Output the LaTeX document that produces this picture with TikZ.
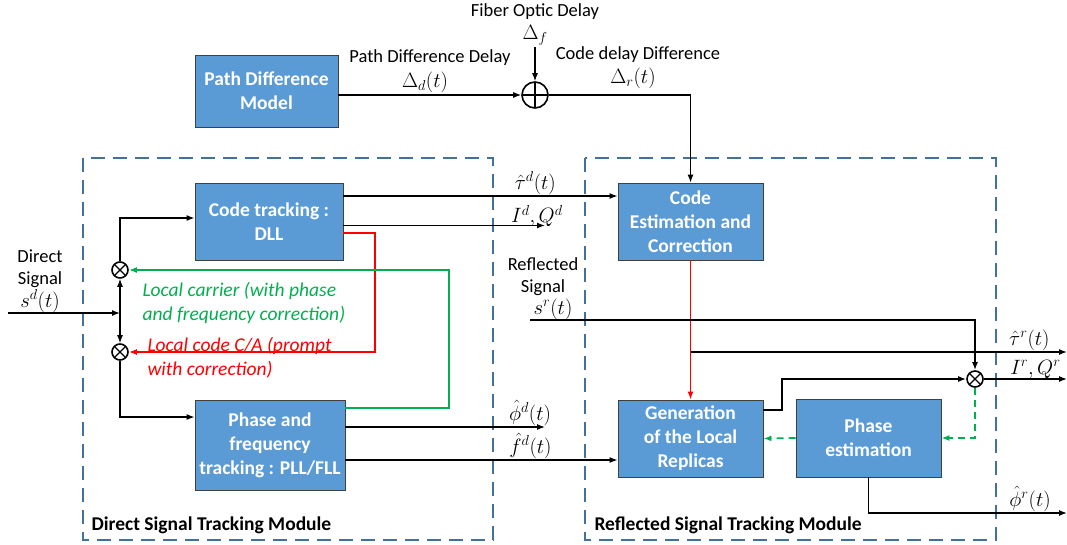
\documentclass[tikz,border=0pt]{standalone}
\usepackage{fontspec}
\setmainfont{Carlito}
\usetikzlibrary{arrows.meta}
\definecolor{boxblue}{HTML}{5B9BD5}
\definecolor{modblue}{HTML}{41719C}
\definecolor{carriergreen}{HTML}{00B050}
\tikzset{
    block/.style={ % blocs de traitement
        draw=black!75,
        fill=boxblue,
        text=white,
        line width=0.8pt,
        inner sep=0pt,
        align=center,
        font=\bfseries\fontsize{19.5}{24}\selectfont
    },
    module/.style={ % cadres des modules
        draw=modblue,
        line width=1.6pt,
        dash pattern=on 14pt off 8pt
    },
    mult/.style={ % multiplieur
        draw, circle, line width=1.6pt, minimum size=16pt, inner sep=0pt,
        path picture={
            \draw[line width=1.2pt] (path picture bounding box.north west) -- (path picture bounding box.south east)
                (path picture bounding box.north east) -- (path picture bounding box.south west);
        }
    },
    summer/.style={ % sommateur
        draw, circle, line width=1.6pt, minimum size=26pt, inner sep=0pt,
        path picture={
            \draw[line width=1.2pt] (path picture bounding box.north) -- (path picture bounding box.south)
                (path picture bounding box.west) -- (path picture bounding box.east);
        }
    },
    lbl/.style={align=center, font=\fontsize{18.5}{22}\selectfont},
    mathlbl/.style={inner sep=1pt, font=\fontsize{20}{22}\selectfont},
    modlbl/.style={anchor=west, font=\bfseries\fontsize{19.5}{22}\selectfont},
    sig/.style={-{Latex[length=8pt,width=6pt]}, line width=1.3pt},
    thicksig/.style={sig, line width=2pt},
    code/.style={sig, draw=red, line width=1.7pt},
    carrier/.style={sig, draw=carriergreen, line width=1.7pt},
    phase/.style={sig, draw=carriergreen, line width=1.7pt, dash pattern=on 7pt off 5pt}
}

\begin{document}
\begin{tikzpicture}[x=1pt, y=-1pt]

        \useasboundingbox (0,0) rectangle (1067,544);

        % cadres des modules
        \draw[module] (83,158) rectangle (493,540);
        \draw[module] (585,158) rectangle (996,540);
        \node[modlbl] (dlab) at (88,525) {Direct Signal Tracking Module};
        \node[modlbl] (rlab) at (591,525) {Reflected Signal Tracking Module};

        % blocs
        \node[block, minimum width=143pt, minimum height=72pt] (pdm) at (266.5,91) {Path Difference\\Model};
        \node[block, minimum width=148pt, minimum height=77pt] (dll) at (269,221.5) {Code tracking :\\DLL};
        \node[block, minimum width=150pt, minimum height=90pt] (pll) at (270,445) {Phase and\\frequency\\tracking : PLL/FLL};
        \node[block, minimum width=145pt, minimum height=77pt] (cec) at (690.5,221.5) {Code\\Estimation and\\Correction};
        \node[block, minimum width=145pt, minimum height=77pt] (gen) at (690.5,438.5) {Generation\\of the Local\\Replicas};
        \node[block, minimum width=145pt, minimum height=78pt] (pe) at (868.5,438) {Phase\\estimation};

        \node[summer] (sum) at (535,95) {};
        \node[mult] (m1) at (120,270) {};
        \node[mult] (m2) at (120,352) {};
        \node[mult] (m3) at (975,379) {};

        % retards
        \node[lbl] (fod) at (535,12) {Fiber Optic Delay};
        \node[mathlbl] (df) at (535,35) {$\Delta_f$};
        \node[lbl] (pdd) at (430,58) {Path Difference Delay};
        \node[mathlbl] (dd) at (425,82) {$\Delta_d(t)$};
        \node[lbl] (cdd) at (638,55) {Code delay Difference};
        \node[mathlbl] (dr) at (633,78) {$\Delta_r(t)$};
        \coordinate (fib) at (535,47);

        \draw[sig] (pdm.east |- sum.west) -- (sum.west);
        \draw[sig] (fib) -- (sum.north);
        \draw[sig] (sum.east) -| (cec.north);

        % signal direct
        \node[lbl] (dsig) at (40,269) {Direct\\Signal};
        \node[mathlbl] (sd) at (40,301) {$s^d(t)$};
        \coordinate (din) at (8,313);
        \coordinate (split) at (120,313);
        \draw[sig] (din) -- (split);
        \draw[sig] (split) -- (m1.south);
        \draw[sig] (split) -- (m2.north);
        \draw[sig] (m1.north) |- ([yshift=3.5pt]dll.west);
        \draw[sig] (m2.south) |- ([yshift=28pt]pll.west);

        % boucles locales
        \coordinate (cturn) at (375,352);
        \coordinate (gturn) at (449,270);
        \draw[code] ([yshift=-11.5pt]dll.east) -| (cturn) -- (m2.east);
        \draw[carrier] ([yshift=37pt]pll.east) -| (gturn) -- (m1.east);
        \node[anchor=west, align=left, text=carriergreen, font=\itshape\fontsize{19.5}{24}\selectfont] (lcar) at (139,303) {Local carrier (with phase\\and frequency correction)};
        \node[anchor=west, align=left, text=red, font=\itshape\fontsize{19.5}{24}\selectfont] (lcod) at (144,358) {Local code C/A (prompt\\with correction)};

        % sorties du module direct
        \coordinate (idq) at (545,225.5);
        \coordinate (phd) at (545,427);
        \draw[sig] ([yshift=25.5pt]dll.east) -- ([yshift=25.5pt]cec.west) node[pos=0.70, above, mathlbl] (taud) {$\hat{\tau}^d(t)$};
        \draw[sig] (dll.east |- idq) -- (idq) node[pos=0.96, above=-3pt, mathlbl] (iqd) {$I^d, Q^d$};
        \draw[sig] (pll.east |- phd) -- (phd) node[pos=0.925, above, mathlbl] (phid) {$\hat{\phi}^d(t)$};
        \draw[sig] ([yshift=-15pt]pll.east) -- ([yshift=-21.5pt]gen.west) node[pos=0.68, above, mathlbl] (fd) {$\hat{f}^d(t)$};

        % module reflechi
        \node[lbl] (rsig) at (543,277) {Reflected\\Signal};
        \node[mathlbl] (sr) at (553,309) {$s^r(t)$};
        \coordinate (rin) at (530,320);
        \coordinate (tauout) at (1067,352);
        \coordinate (iqout) at (1067,379);
        \coordinate (phout) at (1067,513);

        \draw[code] (cec.south) -- (gen.north);
        \draw[thicksig] (rin) -| (m3.north);
        \draw[sig] (cec.south |- tauout) -- (tauout) node[pos=0.9, above, mathlbl] (taur) {$\hat{\tau}^r(t)$};
        \draw[thicksig] ([yshift=28.5pt]gen.east) -- ++(19,0) |- (m3.west);
        \draw[sig] (m3.east) -- (iqout) node[pos=0.62, above=-1pt, mathlbl] (iqr) {$I^r, Q^r$};
        \draw[phase] (m3.south) |- (pe.east);
        \draw[phase] (pe.west) -- (gen.east);
        \draw[sig] (pe.south) |- (phout) node[pos=0.907, above, mathlbl] (phir) {$\hat{\phi}^r(t)$};

\end{tikzpicture}
\end{document}
